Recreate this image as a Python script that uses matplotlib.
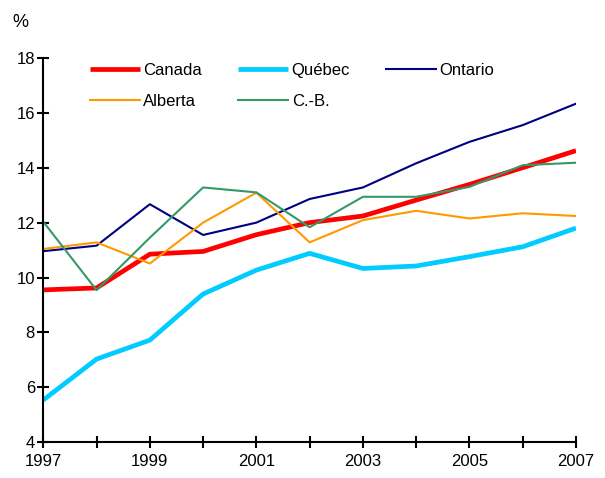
import matplotlib
matplotlib.use("Agg")
import matplotlib.pyplot as plt

plt.rcParams['font.family'] = ['Liberation Sans', 'DejaVu Sans']

years = list(range(1997, 2008))
canada = [9.55, 9.62, 10.85, 10.95, 11.56, 12.0, 12.24, 12.82, 13.39, 14.0, 14.62]
quebec = [5.54, 7.03, 7.72, 9.40, 10.27, 10.88, 10.33, 10.42, 10.76, 11.12, 11.8]
ontario = [10.96, 11.16, 12.67, 11.55, 12.0, 12.86, 13.28, 14.16, 14.94, 15.55, 16.33]
alberta = [11.04, 11.28, 10.51, 12.0, 13.09, 11.28, 12.09, 12.43, 12.15, 12.34, 12.24]
cb = [12.03, 9.54, 11.45, 13.28, 13.1, 11.83, 12.94, 12.94, 13.3, 14.09, 14.18]

fig = plt.figure(figsize=(6.05, 4.78), dpi=100)
ax = fig.add_axes([0.0716, 0.0747, 0.8804, 0.8043])

h_ca, = ax.plot(years, canada, color='#ff0000', lw=3.4, label='Canada', solid_capstyle='butt')
h_qc, = ax.plot(years, quebec, color='#00ccff', lw=3.4, label='Québec', solid_capstyle='butt')
h_on, = ax.plot(years, ontario, color='#000080', lw=1.5, label='Ontario')
h_ab, = ax.plot(years, alberta, color='#ff9900', lw=1.5, label='Alberta')
h_cb, = ax.plot(years, cb, color='#339966', lw=1.5, label='C.-B.')

ax.set_xlim(1997, 2007)
ax.set_ylim(4, 18)
ax.set_xticks(years)
ax.set_xticklabels([str(y) if y % 2 == 1 else '' for y in years])
ax.set_yticks(range(4, 19, 2))

for s in ['top', 'right']:
    ax.spines[s].set_visible(False)
for s in ['left', 'bottom']:
    ax.spines[s].set_linewidth(1.5)
    ax.spines[s].set_color('black')

ax.tick_params(axis='y', direction='inout', length=8, width=1.5, labelsize=12, pad=2)
ax.tick_params(axis='x', direction='inout', length=9, width=1.5, labelsize=12, pad=4)

fig.text(0.02, 0.953, '%', fontsize=13, ha='left', va='center')

handles = [h_ca, h_ab, h_qc, h_cb, h_on]
ax.legend(handles=handles, labels=[h.get_label() for h in handles],
          loc='upper left', bbox_to_anchor=(0.075, 1.005), ncol=3, frameon=False,
          fontsize=12, handlelength=3.0, handletextpad=0.2, columnspacing=2.18,
          labelspacing=1.0, borderaxespad=0)

fig.savefig('out.png', dpi=100)
